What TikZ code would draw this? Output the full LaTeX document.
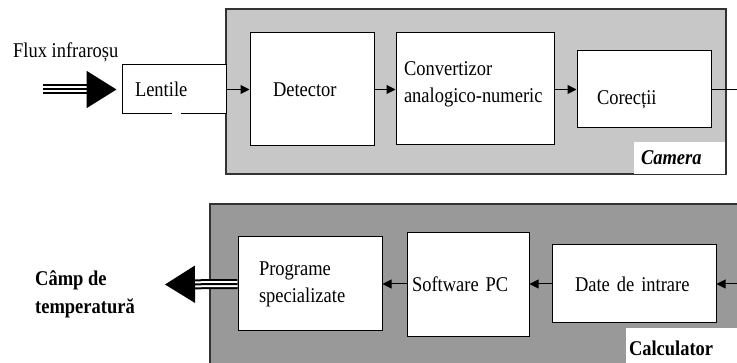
\documentclass[tikz,border=0pt]{standalone}
\usepackage{fontspec}
\setmainfont[FakeStretch=0.88]{Liberation Serif}
\usetikzlibrary{arrows.meta,positioning}

\begin{document}
\begin{tikzpicture}[x=1pt,y=-1pt,
    font=\fontsize{21}{27}\selectfont,
    panel/.style={draw=black!80,line width=1.2pt,inner sep=0pt},
    blk/.style={draw,fill=white,line width=1pt,inner ysep=0pt,align=left},
    tag/.style={fill=white,inner ysep=0pt,align=left},
    flow/.style={line width=1pt,-{Triangle[length=9pt,width=9pt]}},
    shaft/.style={line width=2pt,double distance=6pt},
    bigtip/.style={line width=2pt,-{Triangle[length=30pt,width=37pt]}}]

 \useasboundingbox (0,0) rectangle (737,363);
 \clip (0,0) rectangle (737,363);

 % camera
 \node[panel,fill=black!22,minimum width=500,minimum height=165] (cam) at (476,91.5) {};
 \node[tag,minimum width=91,minimum height=32,text width=77,inner xsep=7,
       font=\fontsize{21}{27}\selectfont\bfseries\itshape] (camlbl) at (679.5,158) {Camera};
 \node[blk,minimum width=104,minimum height=49,text width=78,inner xsep=13] (lent) at (174,89.5) {Lentile};
 \node[blk,minimum width=124,minimum height=113,text width=78,inner xsep=23] (det) at (312,89.5) {Detector};
 \node[blk,minimum width=158,minimum height=112,text width=142,inner xsep=8,text depth=40pt] (conv) at (475,89) {Convertizor\\analogico-numeric};
 \node[blk,minimum width=134,minimum height=77,text width=94,inner xsep=20,
       text height=34pt,text depth=4pt] (cor) at (644,89.5) {Corecții};
 \coordinate (camout) at (745,89.5);

 \draw[white,line width=2pt] (172,114) -- (181,114);

 \draw[flow] (lent.east) -- (det.west);
 \draw[flow] (det.east) -- (conv.west |- det.east);
 \draw[flow] (conv.east |- cor.west) -- (cor.west);
 \draw[line width=1pt] (cor.east) -- (camout);

 % flux
 \node[anchor=west,inner sep=0pt] (flux) at (13,52) {Flux infraroșu};
 \coordinate (fluxa) at (43,89.5);
 \draw[shaft,shorten >=34pt] (fluxa) -- (lent.west);
 \draw[bigtip,shorten >=5pt] (fluxa) -- (lent.west);

 % calculator
 \node[panel,fill=black!40,minimum width=550,minimum height=176] (calc) at (485,292) {};
 \node[tag,minimum width=119,minimum height=40,text width=113,inner xsep=3,
       font=\fontsize{21}{27}\selectfont\bfseries] (calclbl) at (685.5,348) {Calculator};
 \node[blk,minimum width=144,minimum height=94,text width=102,inner xsep=21] (prog) at (310,284) {Programe\\specializate};
 \node[blk,minimum width=122,minimum height=104,text width=112,inner xsep=5] (soft) at (468,284.5) {Software PC};
 \node[blk,minimum width=164,minimum height=78,text width=118,inner xsep=23] (date) at (634,284) {Date de intrare};
 \coordinate (calcin) at (745,284);

 \draw[flow] (calcin) -- (date.east);
 \draw[flow] (date.west) -- (soft.east |- date.west);
 \draw[flow] (soft.west |- prog.east) -- (prog.east);

 % camp de temperatura
 \node[anchor=west,inner sep=0pt,align=left,
       font=\fontsize{21}{28}\selectfont\bfseries] (camp) at (35,294) {Câmp de\\temperatură};
 \coordinate (campb) at (165,284.5);
 \draw[shaft,shorten >=30pt] (prog.west) -- (campb);
 \draw[bigtip] (prog.west) -- (campb);
\end{tikzpicture}
\end{document}
